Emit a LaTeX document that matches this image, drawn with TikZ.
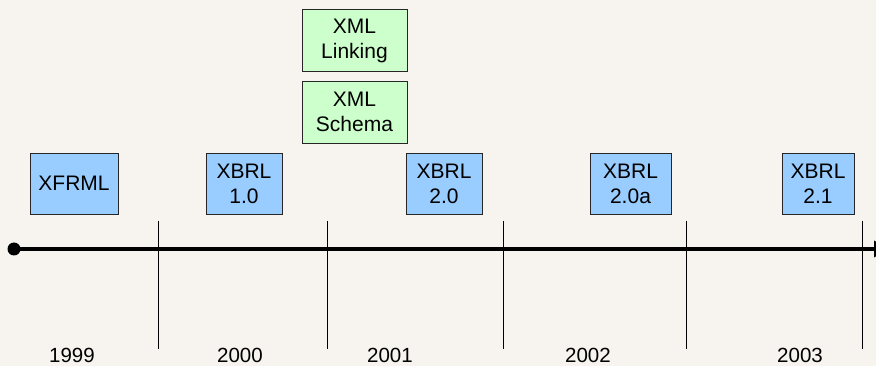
\documentclass[tikz,border=0pt]{standalone}
\usepackage{fontspec}
\setmainfont{Liberation Sans}
\usetikzlibrary{positioning, arrows.meta}
\definecolor{xbrlcolor}{RGB}{153,204,255}
\definecolor{xmlcolor}{RGB}{204,255,204}
\definecolor{bgcolor}{RGB}{247,244,240}

\tikzset{
  verbox/.style={draw=black!85, fill=xbrlcolor, line width=0.8pt, minimum height=61pt,
                 inner sep=0pt, align=center, font=\fontsize{21}{25}\selectfont},
  xmlbox/.style={verbox, fill=xmlcolor, minimum width=105pt, minimum height=62pt},
  yearlabel/.style={inner sep=0pt, font=\fontsize{20.5}{24}\selectfont},
  tickline/.style={line width=0.8pt}
}

\begin{document}
\begin{tikzpicture}[x=1pt, y=-1pt]
            % Fondo
            \fill[bgcolor] (0,0) rectangle (876,366);
            \useasboundingbox (0,0) rectangle (876,366);

            % Linea de tiempo
            \node[circle, fill=black, inner sep=0pt, minimum size=13pt] (start) at (14,249) {};
            \coordinate (tlend) at (888,249);
            \draw[line width=4pt, -{Triangle[length=14pt, width=16pt]}] (start.center) -- (tlend);

            % Separadores
            \foreach \x in {158, 327, 503, 686, 862} {
                \draw[tickline] (\x,221) -- (\x,349);
            }

            % Anios
            \node[yearlabel] (y1999) at (72,355.5) {1999};
            \node[yearlabel] (y2000) at (240,355.5) {2000};
            \node[yearlabel] (y2001) at (390,355.5) {2001};
            \node[yearlabel] (y2002) at (588,355.5) {2002};
            \node[yearlabel] (y2003) at (800,355.5) {2003};

            % Versiones
            \node[verbox, minimum width=88pt] (xfrml) at (74,183.5) {XFRML};
            \node[verbox, minimum width=76pt] (xbrl10) at (244,183.5) {XBRL\\1.0};
            \node[verbox, minimum width=76pt] (xbrl20) at (444,183.5) {XBRL\\2.0};
            \node[verbox, minimum width=81pt] (xbrl20a) at (630.5,183.5) {XBRL\\2.0a};
            \node[verbox, minimum width=72pt] (xbrl21) at (818,183.5) {XBRL\\2.1};

            % Especificaciones XML
            \node[xmlbox] (xmllink) at (354.5,40.5) {XML\\Linking};
            \node[xmlbox] (xmlschema) at (354.5,112) {XML\\Schema};
        \end{tikzpicture}
\end{document}
